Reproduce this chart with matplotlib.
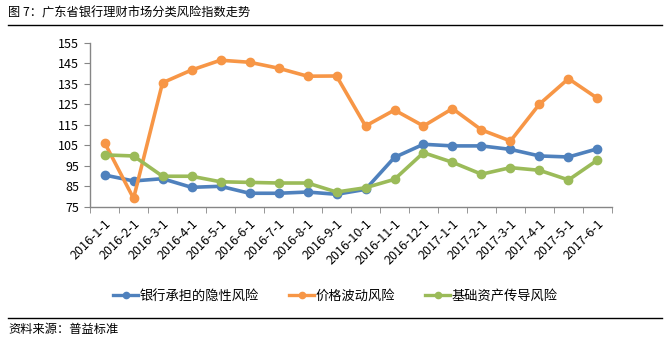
import numpy as np
import matplotlib
matplotlib.use('Agg')
import matplotlib.pyplot as plt
from matplotlib.lines import Line2D

plt.rcParams['font.family'] = ['Noto Sans CJK SC', 'DejaVu Sans']

months = ['2016-1-1', '2016-2-1', '2016-3-1', '2016-4-1', '2016-5-1', '2016-6-1',
          '2016-7-1', '2016-8-1', '2016-9-1', '2016-10-1', '2016-11-1', '2016-12-1',
          '2017-1-1', '2017-2-1', '2017-3-1', '2017-4-1', '2017-5-1', '2017-6-1']
bank_risk = [90.6, 87.7, 88.8, 84.6, 85.1, 81.7, 81.7, 82.3, 81.2, 83.6,
             99.2, 105.6, 104.8, 104.8, 103.1, 99.9, 99.4, 103.4]
price_risk = [106.4, 79.2, 135.6, 141.8, 146.6, 145.6, 142.7, 138.8, 138.9, 114.5,
              122.3, 114.5, 123.0, 112.6, 107.2, 125.2, 137.6, 128.0]
asset_risk = [100.4, 99.9, 90.0, 90.0, 87.3, 87.0, 86.7, 86.7, 82.3, 84.4,
              88.5, 101.5, 96.8, 91.0, 94.2, 92.9, 88.2, 97.9]
names = ['银行承担的隐性风险', '价格波动风险', '基础资产传导风险']
colors = ['#4F81BD', '#F79646', '#9BBB59']
yticks = [75, 85, 95, 105, 115, 125, 135, 145, 155]

fig = plt.figure(figsize=(6.67, 3.45), dpi=100)
ax = fig.add_axes([0.135, 0.4, 0.7825, 0.4754])
x = np.arange(len(months))
for ser, c in zip([bank_risk, price_risk, asset_risk], colors):
    ax.plot(x, ser, color=c, lw=2.6, marker='o', ms=6, mec=c, mfc=c, solid_capstyle='round')

ax.set_xlim(-0.5, len(months) - 0.5)
ax.set_ylim(75, 155)
ax.set_yticks(yticks)
ax.set_yticklabels([str(v) for v in yticks], fontsize=9)
ax.set_xticks(x)
ax.set_xticklabels(months, rotation=45, ha='right', va='top', rotation_mode='anchor', fontsize=9)
ax.tick_params(axis='x', which='major', length=0, pad=7)
ax.set_xticks(np.arange(-0.5, len(months)), minor=True)
ax.tick_params(axis='x', which='minor', length=4, color='#868686', direction='out')
ax.tick_params(axis='y', length=4, color='#868686', direction='out', pad=4)
for s in ['top', 'right']:
    ax.spines[s].set_visible(False)
for s in ['left', 'bottom']:
    ax.spines[s].set_color('#868686')
    ax.spines[s].set_linewidth(1)

handles = [Line2D([0], [0], color=c, lw=2.4, marker='o', ms=4.5) for c in colors]
fig.legend(handles, names, loc='center', bbox_to_anchor=(0.503, 1 - 296 / 345), ncol=3,
           frameon=False, fontsize=9.5, handlelength=1.9, handletextpad=0.1, columnspacing=2.3)

# title and source with rules
fig.text(8 / 667, 1 - 13 / 345, '图 7：广东省银行理财市场分类风险指数走势', fontsize=8.8, va='center', ha='left')
fig.add_artist(Line2D([8 / 667, 662 / 667], [1 - 25 / 345] * 2, color='black', lw=1))
fig.add_artist(Line2D([8 / 667, 662 / 667], [1 - 318 / 345] * 2, color='black', lw=1))
fig.text(8 / 667, 1 - 330 / 345, '资料来源：普益标准', fontsize=8.8, va='center', ha='left')

fig.savefig('out.png', dpi=100)
